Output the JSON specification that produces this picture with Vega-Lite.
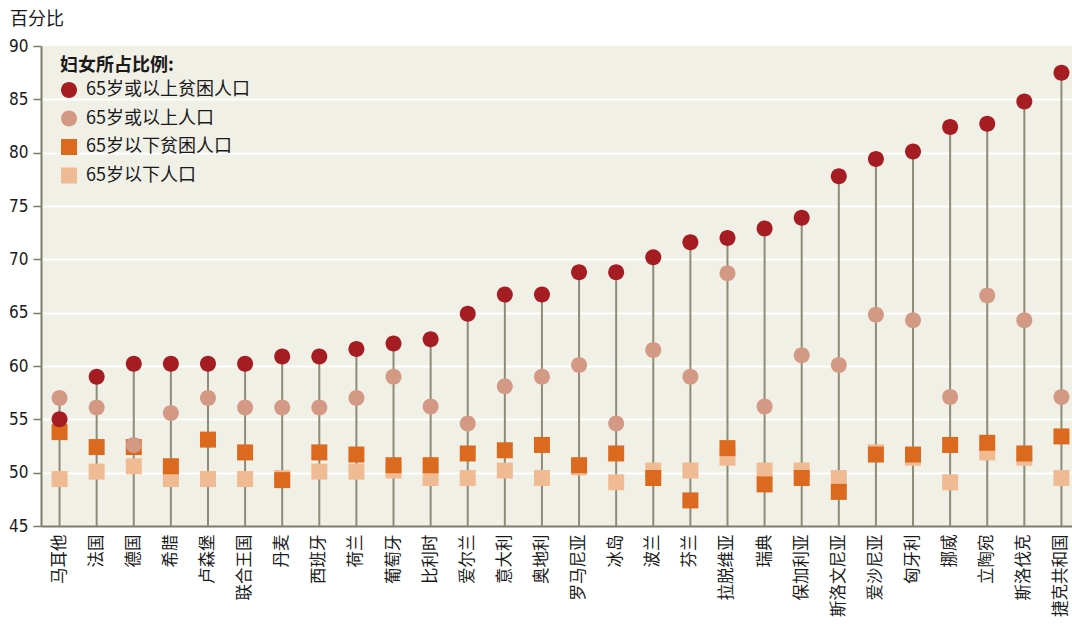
{
  "$schema": "https://vega.github.io/schema/vega-lite/v6.json",
  "width": 1031,
  "height": 480,
  "autosize": {"type": "none"},
  "padding": {"left": 41, "top": 46, "right": 0, "bottom": 98},
  "background": "white",
  "title": {
    "text": "百分比",
    "anchor": "start",
    "frame": "group",
    "orient": "top",
    "baseline": "bottom",
    "font": "Noto Sans CJK SC",
    "fontSize": 18,
    "fontWeight": "normal",
    "color": "#1a1a1a",
    "dx": -31,
    "dy": 14,
    "offset": 4
  },
  "config": {
    "title": {"fontSize": 18},
    "view": {"fill": "#f0f0e6", "stroke": null},
    "font": "Noto Sans CJK SC",
    "axisY": {
      "labelFont": "DejaVu Sans Condensed, Liberation Sans, sans-serif",
      "labelFontSize": 17,
      "labelColor": "#1a1a1a",
      "labelPadding": 5,
      "tickSize": 8,
      "tickColor": "#7d7d6a",
      "tickWidth": 1.5,
      "domainColor": "#7d7d6a",
      "domainWidth": 2,
      "gridColor": "#ffffff",
      "gridWidth": 2
    },
    "axisX": {
      "labelAngle": -90,
      "labelAlign": "right",
      "labelBaseline": "middle",
      "labelFont": "Noto Sans CJK SC",
      "labelFontSize": 16.5,
      "labelColor": "#1a1a1a",
      "labelPadding": 8,
      "labelLimit": 200,
      "ticks": false,
      "domainColor": "#7d7d6a",
      "domainWidth": 2
    }
  },
  "data": {
    "values": [
      {"country": "马耳他", "group": "65岁以下人口", "value": 49.4},
      {"country": "法国", "group": "65岁以下人口", "value": 50.1},
      {"country": "德国", "group": "65岁以下人口", "value": 50.6},
      {"country": "希腊", "group": "65岁以下人口", "value": 49.4},
      {"country": "卢森堡", "group": "65岁以下人口", "value": 49.4},
      {"country": "联合王国", "group": "65岁以下人口", "value": 49.4},
      {"country": "丹麦", "group": "65岁以下人口", "value": 49.5},
      {"country": "西班牙", "group": "65岁以下人口", "value": 50.1},
      {"country": "荷兰", "group": "65岁以下人口", "value": 50.1},
      {"country": "葡萄牙", "group": "65岁以下人口", "value": 50.2},
      {"country": "比利时", "group": "65岁以下人口", "value": 49.5},
      {"country": "爱尔兰", "group": "65岁以下人口", "value": 49.5},
      {"country": "意大利", "group": "65岁以下人口", "value": 50.2},
      {"country": "奥地利", "group": "65岁以下人口", "value": 49.5},
      {"country": "罗马尼亚", "group": "65岁以下人口", "value": 50.5},
      {"country": "冰岛", "group": "65岁以下人口", "value": 49.1},
      {"country": "波兰", "group": "65岁以下人口", "value": 50.2},
      {"country": "芬兰", "group": "65岁以下人口", "value": 50.2},
      {"country": "拉脱维亚", "group": "65岁以下人口", "value": 51.4},
      {"country": "瑞典", "group": "65岁以下人口", "value": 50.2},
      {"country": "保加利亚", "group": "65岁以下人口", "value": 50.2},
      {"country": "斯洛文尼亚", "group": "65岁以下人口", "value": 49.5},
      {"country": "爱沙尼亚", "group": "65岁以下人口", "value": 51.9},
      {"country": "匈牙利", "group": "65岁以下人口", "value": 51.4},
      {"country": "挪威", "group": "65岁以下人口", "value": 49.1},
      {"country": "立陶宛", "group": "65岁以下人口", "value": 51.9},
      {"country": "斯洛伐克", "group": "65岁以下人口", "value": 51.4},
      {"country": "捷克共和国", "group": "65岁以下人口", "value": 49.5},

      {"country": "马耳他", "group": "65岁以下贫困人口", "value": 53.8},
      {"country": "法国", "group": "65岁以下贫困人口", "value": 52.4},
      {"country": "德国", "group": "65岁以下贫困人口", "value": 52.4},
      {"country": "希腊", "group": "65岁以下贫困人口", "value": 50.6},
      {"country": "卢森堡", "group": "65岁以下贫困人口", "value": 53.1},
      {"country": "联合王国", "group": "65岁以下贫困人口", "value": 51.9},
      {"country": "丹麦", "group": "65岁以下贫困人口", "value": 49.3},
      {"country": "西班牙", "group": "65岁以下贫困人口", "value": 51.9},
      {"country": "荷兰", "group": "65岁以下贫困人口", "value": 51.7},
      {"country": "葡萄牙", "group": "65岁以下贫困人口", "value": 50.7},
      {"country": "比利时", "group": "65岁以下贫困人口", "value": 50.7},
      {"country": "爱尔兰", "group": "65岁以下贫困人口", "value": 51.8},
      {"country": "意大利", "group": "65岁以下贫困人口", "value": 52.1},
      {"country": "奥地利", "group": "65岁以下贫困人口", "value": 52.6},
      {"country": "罗马尼亚", "group": "65岁以下贫困人口", "value": 50.7},
      {"country": "冰岛", "group": "65岁以下贫困人口", "value": 51.8},
      {"country": "波兰", "group": "65岁以下贫困人口", "value": 49.5},
      {"country": "芬兰", "group": "65岁以下贫困人口", "value": 47.4},
      {"country": "拉脱维亚", "group": "65岁以下贫困人口", "value": 52.3},
      {"country": "瑞典", "group": "65岁以下贫困人口", "value": 48.9},
      {"country": "保加利亚", "group": "65岁以下贫困人口", "value": 49.5},
      {"country": "斯洛文尼亚", "group": "65岁以下贫困人口", "value": 48.2},
      {"country": "爱沙尼亚", "group": "65岁以下贫困人口", "value": 51.7},
      {"country": "匈牙利", "group": "65岁以下贫困人口", "value": 51.7},
      {"country": "挪威", "group": "65岁以下贫困人口", "value": 52.6},
      {"country": "立陶宛", "group": "65岁以下贫困人口", "value": 52.8},
      {"country": "斯洛伐克", "group": "65岁以下贫困人口", "value": 51.8},
      {"country": "捷克共和国", "group": "65岁以下贫困人口", "value": 53.4},

      {"country": "马耳他", "group": "65岁或以上人口", "value": 57.0},
      {"country": "法国", "group": "65岁或以上人口", "value": 56.1},
      {"country": "德国", "group": "65岁或以上人口", "value": 52.6},
      {"country": "希腊", "group": "65岁或以上人口", "value": 55.6},
      {"country": "卢森堡", "group": "65岁或以上人口", "value": 57.0},
      {"country": "联合王国", "group": "65岁或以上人口", "value": 56.1},
      {"country": "丹麦", "group": "65岁或以上人口", "value": 56.1},
      {"country": "西班牙", "group": "65岁或以上人口", "value": 56.1},
      {"country": "荷兰", "group": "65岁或以上人口", "value": 57.0},
      {"country": "葡萄牙", "group": "65岁或以上人口", "value": 59.0},
      {"country": "比利时", "group": "65岁或以上人口", "value": 56.2},
      {"country": "爱尔兰", "group": "65岁或以上人口", "value": 54.6},
      {"country": "意大利", "group": "65岁或以上人口", "value": 58.1},
      {"country": "奥地利", "group": "65岁或以上人口", "value": 59.0},
      {"country": "罗马尼亚", "group": "65岁或以上人口", "value": 60.1},
      {"country": "冰岛", "group": "65岁或以上人口", "value": 54.6},
      {"country": "波兰", "group": "65岁或以上人口", "value": 61.5},
      {"country": "芬兰", "group": "65岁或以上人口", "value": 59.0},
      {"country": "拉脱维亚", "group": "65岁或以上人口", "value": 68.7},
      {"country": "瑞典", "group": "65岁或以上人口", "value": 56.2},
      {"country": "保加利亚", "group": "65岁或以上人口", "value": 61.0},
      {"country": "斯洛文尼亚", "group": "65岁或以上人口", "value": 60.1},
      {"country": "爱沙尼亚", "group": "65岁或以上人口", "value": 64.8},
      {"country": "匈牙利", "group": "65岁或以上人口", "value": 64.3},
      {"country": "挪威", "group": "65岁或以上人口", "value": 57.1},
      {"country": "立陶宛", "group": "65岁或以上人口", "value": 66.6},
      {"country": "斯洛伐克", "group": "65岁或以上人口", "value": 64.3},
      {"country": "捷克共和国", "group": "65岁或以上人口", "value": 57.1},

      {"country": "马耳他", "group": "65岁或以上贫困人口", "value": 55.0},
      {"country": "法国", "group": "65岁或以上贫困人口", "value": 59.0},
      {"country": "德国", "group": "65岁或以上贫困人口", "value": 60.2},
      {"country": "希腊", "group": "65岁或以上贫困人口", "value": 60.2},
      {"country": "卢森堡", "group": "65岁或以上贫困人口", "value": 60.2},
      {"country": "联合王国", "group": "65岁或以上贫困人口", "value": 60.2},
      {"country": "丹麦", "group": "65岁或以上贫困人口", "value": 60.9},
      {"country": "西班牙", "group": "65岁或以上贫困人口", "value": 60.9},
      {"country": "荷兰", "group": "65岁或以上贫困人口", "value": 61.6},
      {"country": "葡萄牙", "group": "65岁或以上贫困人口", "value": 62.1},
      {"country": "比利时", "group": "65岁或以上贫困人口", "value": 62.5},
      {"country": "爱尔兰", "group": "65岁或以上贫困人口", "value": 64.9},
      {"country": "意大利", "group": "65岁或以上贫困人口", "value": 66.7},
      {"country": "奥地利", "group": "65岁或以上贫困人口", "value": 66.7},
      {"country": "罗马尼亚", "group": "65岁或以上贫困人口", "value": 68.8},
      {"country": "冰岛", "group": "65岁或以上贫困人口", "value": 68.8},
      {"country": "波兰", "group": "65岁或以上贫困人口", "value": 70.2},
      {"country": "芬兰", "group": "65岁或以上贫困人口", "value": 71.6},
      {"country": "拉脱维亚", "group": "65岁或以上贫困人口", "value": 72.0},
      {"country": "瑞典", "group": "65岁或以上贫困人口", "value": 72.9},
      {"country": "保加利亚", "group": "65岁或以上贫困人口", "value": 73.9},
      {"country": "斯洛文尼亚", "group": "65岁或以上贫困人口", "value": 77.8},
      {"country": "爱沙尼亚", "group": "65岁或以上贫困人口", "value": 79.4},
      {"country": "匈牙利", "group": "65岁或以上贫困人口", "value": 80.1},
      {"country": "挪威", "group": "65岁或以上贫困人口", "value": 82.4},
      {"country": "立陶宛", "group": "65岁或以上贫困人口", "value": 82.7},
      {"country": "斯洛伐克", "group": "65岁或以上贫困人口", "value": 84.8},
      {"country": "捷克共和国", "group": "65岁或以上贫困人口", "value": 87.5}
    ]
  },
  "encoding": {
    "x": {
      "field": "country",
      "type": "nominal",
      "sort": ["马耳他", "法国", "德国", "希腊", "卢森堡", "联合王国", "丹麦", "西班牙", "荷兰", "葡萄牙", "比利时", "爱尔兰", "意大利", "奥地利", "罗马尼亚", "冰岛", "波兰", "芬兰", "拉脱维亚", "瑞典", "保加利亚", "斯洛文尼亚", "爱沙尼亚", "匈牙利", "挪威", "立陶宛", "斯洛伐克", "捷克共和国"],
      "scale": {"range": [0, 1039], "paddingInner": 0, "paddingOuter": 0},
      "axis": {"title": null}
    }
  },
  "layer": [
    {
      "mark": {"type": "rule", "color": "#8c8c78", "strokeWidth": 2},
      "encoding": {
        "y": {
          "aggregate": "max",
          "field": "value",
          "type": "quantitative",
          "title": null
        },
        "y2": {"datum": 45}
      }
    },
    {
      "mark": {"type": "point", "filled": true, "opacity": 1, "size": 256, "strokeWidth": 0},
      "encoding": {
        "y": {
          "field": "value",
          "type": "quantitative",
          "title": null,
          "scale": {"domain": [45, 90], "nice": false, "zero": false},
          "axis": {
            "title": null,
            "values": [45, 50, 55, 60, 65, 70, 75, 80, 85, 90],
            "gridOpacity": {"condition": {"test": "datum.value == 90 || datum.value == 45", "value": 0}, "value": 1}
          }
        },
        "color": {
          "field": "group",
          "type": "nominal",
          "scale": {
            "domain": ["65岁或以上贫困人口", "65岁或以上人口", "65岁以下贫困人口", "65岁以下人口"],
            "range": ["#a51c22", "#d39985", "#dc6a1e", "#f0bb92"]
          },
          "legend": {
            "title": "妇女所占比例:",
            "orient": "none",
            "legendX": 19,
            "legendY": 11,
            "titleFont": "Noto Sans CJK SC",
            "titleFontSize": 18,
            "titleFontWeight": "bold",
            "titleColor": "#1a1a1a",
            "titlePadding": 6,
            "labelFont": "Noto Sans CJK SC",
            "labelFontSize": 18,
            "labelColor": "#1a1a1a",
            "labelOffset": 8,
            "labelLimit": 400,
            "symbolSize": 256,
            "symbolStrokeWidth": 0,
            "rowPadding": 10.5
          }
        },
        "shape": {
          "field": "group",
          "type": "nominal",
          "scale": {
            "domain": ["65岁或以上贫困人口", "65岁或以上人口", "65岁以下贫困人口", "65岁以下人口"],
            "range": ["M1,0A1,1,0,1,1,-1,0A1,1,0,1,1,1,0Z", "M1,0A1,1,0,1,1,-1,0A1,1,0,1,1,1,0Z", "M-1,-1H1V1H-1Z", "M-1,-1H1V1H-1Z"]
          },
          "legend": {
            "title": "妇女所占比例:",
            "orient": "none",
            "legendX": 19,
            "legendY": 11
          }
        }
      }
    }
  ]
}
